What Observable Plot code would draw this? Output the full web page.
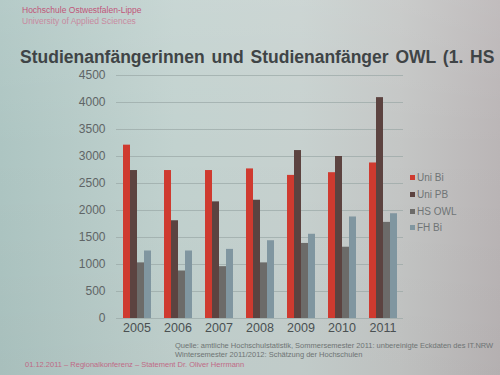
<!DOCTYPE html>
<html>
<head>
<meta charset="utf-8">
<script src="https://cdn.jsdelivr.net/npm/d3@7"></script>
<script src="https://cdn.jsdelivr.net/npm/@observablehq/plot@0.6"></script>
<style>
  html, body { margin: 0; padding: 0; }
  body {
    width: 500px; height: 375px; overflow: hidden; position: relative;
    font-family: "Liberation Sans", Arial, sans-serif;
    background:
      linear-gradient(180deg, rgba(255,255,255,0.10) 0%, rgba(255,255,255,0) 40%, rgba(0,0,0,0.03) 100%),
      linear-gradient(90deg, #adc5c2 0%, #c2d2cf 35%, #c7d1cf 60%, #c4c6c5 80%, #bab5b6 100%);
  }
  .abs { position: absolute; white-space: nowrap; }
  #chart { position: absolute; left: 0; top: 0; }
  #chart svg { background: transparent !important; }
</style>
</head>
<body>
<div class="abs" style="left:22px;top:5px;font-size:8.5px;color:#c0567a;">Hochschule Ostwestfalen-Lippe</div>
<div class="abs" style="left:22px;top:16px;font-size:8.5px;color:#c88aa0;">University of Applied Sciences</div>
<div class="abs" style="left:20px;top:47px;font-size:17.5px;font-weight:bold;color:#3f4446;word-spacing:2px;">Studienanfängerinnen und Studienanfänger OWL (1. HS</div>
<div id="chart"></div>
<div id="legend" class="abs" style="left:410px;top:170px;font-size:10px;color:#6f7475;line-height:16.8px;"></div>
<div class="abs" style="left:175px;top:341px;font-size:7.5px;color:#6e7474;">Quelle: amtliche Hochschulstatistik, Sommersemester 2011: unbereinigte Eckdaten des IT.NRW</div>
<div class="abs" style="left:175px;top:350px;font-size:7.5px;color:#6e7474;">Wintersemester 2011/2012: Schätzung der Hochschulen</div>
<div class="abs" style="left:25px;top:360px;font-size:7.5px;color:#c06a86;">01.12.2011 – Regionalkonferenz – Statement Dr. Oliver Herrmann</div>
<script>
const years = ["2005", "2006", "2007", "2008", "2009", "2010", "2011"];
const seriesNames = ["Uni Bi", "Uni PB", "HS OWL", "FH Bi"];
const uniBi  = [3210, 2740, 2740, 2770, 2650, 2700, 2880];
const uniPB  = [2740, 1810, 2160, 2190, 3110, 3000, 4090];
const hsOWL  = [1030,  880,  960, 1030, 1390, 1320, 1780];
const fhBi   = [1250, 1250, 1280, 1440, 1560, 1880, 1940];
const seriesColors = ["#cf3a2f", "#5c4340", "#6c6b69", "#8096a0"];
const yTicks = [0, 500, 1000, 1500, 2000, 2500, 3000, 3500, 4000, 4500];

const valuesBySeries = [uniBi, uniPB, hsOWL, fhBi];
const data = [];
years.forEach((yr, i) => {
  seriesNames.forEach((s, j) => data.push({year: yr, series: s, value: valuesBySeries[j][i]}));
});

const chart = Plot.plot({
  width: 500,
  height: 375,
  marginTop: 75,
  marginBottom: 57,
  marginLeft: 114,
  marginRight: 95,
  style: {background: "transparent", fontFamily: "Liberation Sans, Arial, sans-serif"},
  fx: {domain: years, padding: 0, label: null, axis: null},
  x: {domain: seriesNames, paddingInner: 0, paddingOuter: 0.75, axis: null},
  y: {domain: [0, 4500], ticks: yTicks, label: null},
  color: {domain: seriesNames, range: seriesColors},
  marks: [
    Plot.ruleY(yTicks, {stroke: "#97a5a3", strokeOpacity: 0.65, strokeWidth: 1}),
    Plot.barY(data, {fx: "year", x: "series", y: "value", fill: "series"}),
    Plot.axisY({ticks: yTicks, tickFormat: d3.format("d"), tickSize: 0, tickPadding: 11, fontSize: 12, fill: "#5f6566", label: null}),
    Plot.axisFx({anchor: "bottom", tickSize: 0, tickPadding: 5, fontSize: 12.5, fill: "#4a5052", label: null})
  ]
});
document.getElementById("chart").appendChild(chart);

const legend = document.getElementById("legend");
seriesNames.forEach((s, j) => {
  const row = document.createElement("div");
  row.innerHTML = `<span style="display:inline-block;width:5px;height:5px;background:${seriesColors[j]};margin-right:2px;vertical-align:1px;"></span>${s}`;
  legend.appendChild(row);
});
</script>
</body>
</html>
